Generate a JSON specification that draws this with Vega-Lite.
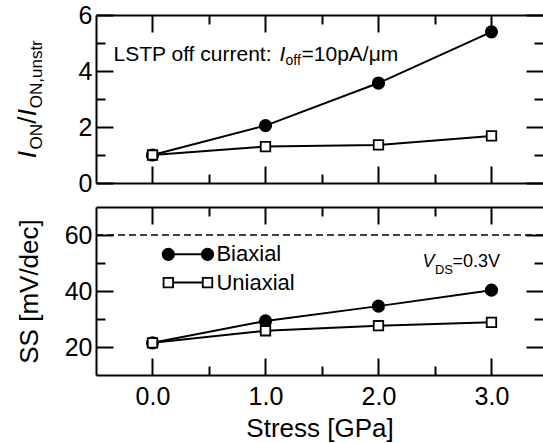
{
  "$schema": "https://vega.github.io/schema/vega-lite/v6.json",
  "padding": {"left": 15, "top": 3, "right": 0, "bottom": 3},
  "config": {
    "view": {"stroke": null},
    "font": "Liberation Sans",
    "axis": {"grid": false, "minExtent": 0, "domainColor": "black", "domainWidth": 2, "tickColor": "black", "tickWidth": 2, "labelColor": "black", "labelFontSize": 25, "labelFont": "Liberation Sans", "titleColor": "black", "titleFontSize": 26, "titleFontWeight": "normal", "titleFont": "Liberation Sans"}
  },
  "datasets": {
    "ion": [
      {"stress": 0, "type": "Biaxial", "value": 1.0},
      {"stress": 1, "type": "Biaxial", "value": 2.05},
      {"stress": 2, "type": "Biaxial", "value": 3.57},
      {"stress": 3, "type": "Biaxial", "value": 5.4},
      {"stress": 0, "type": "Uniaxial", "value": 1.0},
      {"stress": 1, "type": "Uniaxial", "value": 1.3},
      {"stress": 2, "type": "Uniaxial", "value": 1.36},
      {"stress": 3, "type": "Uniaxial", "value": 1.68}
    ],
    "ss": [
      {"stress": 0, "type": "Biaxial", "value": 21.5},
      {"stress": 1, "type": "Biaxial", "value": 29.3},
      {"stress": 2, "type": "Biaxial", "value": 34.6},
      {"stress": 3, "type": "Biaxial", "value": 40.3},
      {"stress": 0, "type": "Uniaxial", "value": 21.5},
      {"stress": 1, "type": "Uniaxial", "value": 25.8},
      {"stress": 2, "type": "Uniaxial", "value": 27.6},
      {"stress": 3, "type": "Uniaxial", "value": 28.8}
    ]
  },
  "bounds": "flush",
  "spacing": 24,
  "vconcat": [
    {
      "width": 447,
      "height": 168,
      "resolve": {"axis": {"x": "independent", "y": "independent"}},
      "layer": [
        {
          "data": {"name": "ion"},
          "mark": {"type": "line", "color": "black", "strokeWidth": 2},
          "encoding": {
            "x": {"field": "stress", "type": "quantitative", "scale": {"domain": [-0.5, 3.456], "nice": false, "zero": false},
              "axis": {"orient": "bottom", "values": [0, 0.5, 1, 1.5, 2, 2.5, 3], "labels": false, "title": null,
                "tickSize": {"condition": {"test": "datum.value % 1 === 0", "value": -17}, "value": -9}}},
            "y": {"field": "value", "type": "quantitative", "scale": {"domain": [0, 6], "nice": false, "zero": false},
              "axis": {"orient": "left", "values": [0, 1, 2, 3, 4, 5, 6], "title": null, "labelPadding": 21,
                "labelExpr": "datum.value % 2 === 0 ? datum.value : ''",
                "tickSize": {"condition": {"test": "datum.value % 2 === 0", "value": -17}, "value": -9}}},
            "detail": {"field": "type"}
          }
        },
        {
          "data": {"name": "ion"},
          "mark": {"type": "point", "stroke": "black", "strokeWidth": 1.8, "opacity": 1},
          "encoding": {
            "x": {"field": "stress", "type": "quantitative",
              "axis": {"orient": "top", "values": [0, 0.5, 1, 1.5, 2, 2.5, 3], "labels": false, "title": null,
                "tickSize": {"condition": {"test": "datum.value % 1 === 0", "value": -17}, "value": -9}}},
            "y": {"field": "value", "type": "quantitative",
              "axis": {"orient": "right", "values": [0, 1, 2, 3, 4, 5, 6], "labels": false, "title": null, "domain": false,
                "tickSize": {"condition": {"test": "datum.value % 2 === 0", "value": -17}, "value": -9}}},
            "shape": {"field": "type", "scale": {"domain": ["Biaxial", "Uniaxial"], "range": ["circle", "square"]}, "legend": null},
            "fill": {"field": "type", "scale": {"domain": ["Biaxial", "Uniaxial"], "range": ["black", "white"]}, "legend": null},
            "size": {"field": "type", "scale": {"domain": ["Biaxial", "Uniaxial"], "range": [130, 90]}, "legend": null}
          }
        },
        {
          "data": {"values": [{}]},
          "mark": {"type": "text", "align": "left", "baseline": "alphabetic", "fontSize": 21, "color": "black"},
          "encoding": {"x": {"datum": -0.345, "type": "quantitative", "axis": null}, "y": {"datum": 4.37, "type": "quantitative", "axis": null}, "text": {"value": "LSTP off current: "}}
        },
        {
          "data": {"values": [{}]},
          "mark": {"type": "text", "align": "left", "baseline": "alphabetic", "fontSize": 21, "fontStyle": "italic", "color": "black"},
          "encoding": {"x": {"datum": 1.124, "type": "quantitative", "axis": null}, "y": {"datum": 4.37, "type": "quantitative", "axis": null}, "text": {"value": "I"}}
        },
        {
          "data": {"values": [{}]},
          "mark": {"type": "text", "align": "left", "baseline": "alphabetic", "fontSize": 14, "color": "black"},
          "encoding": {"x": {"datum": 1.177, "type": "quantitative", "axis": null}, "y": {"datum": 4.2, "type": "quantitative", "axis": null}, "text": {"value": "off"}}
        },
        {
          "data": {"values": [{}]},
          "mark": {"type": "text", "align": "left", "baseline": "alphabetic", "fontSize": 21, "color": "black"},
          "encoding": {"x": {"datum": 1.319, "type": "quantitative", "axis": null}, "y": {"datum": 4.37, "type": "quantitative", "axis": null}, "text": {"value": "=10pA/μm"}}
        },
        {
          "data": {"values": [{}]},
          "mark": {"type": "text", "align": "left", "baseline": "alphabetic", "angle": 270, "fontSize": 26, "fontStyle": "italic", "color": "black"},
          "encoding": {"x": {"datum": -1.027, "type": "quantitative", "axis": null}, "y": {"datum": 0.88, "type": "quantitative", "axis": null}, "text": {"value": "I"}}
        },
        {
          "data": {"values": [{}]},
          "mark": {"type": "text", "align": "left", "baseline": "alphabetic", "angle": 270, "fontSize": 17, "color": "black"},
          "encoding": {"x": {"datum": -0.982, "type": "quantitative", "axis": null}, "y": {"datum": 1.2, "type": "quantitative", "axis": null}, "text": {"value": "ON"}}
        },
        {
          "data": {"values": [{}]},
          "mark": {"type": "text", "align": "left", "baseline": "alphabetic", "angle": 270, "fontSize": 26, "color": "black"},
          "encoding": {"x": {"datum": -1.027, "type": "quantitative", "axis": null}, "y": {"datum": 2.12, "type": "quantitative", "axis": null}, "text": {"value": "/"}}
        },
        {
          "data": {"values": [{}]},
          "mark": {"type": "text", "align": "left", "baseline": "alphabetic", "angle": 270, "fontSize": 26, "fontStyle": "italic", "color": "black"},
          "encoding": {"x": {"datum": -1.027, "type": "quantitative", "axis": null}, "y": {"datum": 2.38, "type": "quantitative", "axis": null}, "text": {"value": "I"}}
        },
        {
          "data": {"values": [{}]},
          "mark": {"type": "text", "align": "left", "baseline": "alphabetic", "angle": 270, "fontSize": 17, "color": "black"},
          "encoding": {"x": {"datum": -0.982, "type": "quantitative", "axis": null}, "y": {"datum": 2.67, "type": "quantitative", "axis": null}, "text": {"value": "ON,unstr"}}
        }
      ]
    },
    {
      "width": 447,
      "height": 168,
      "resolve": {"axis": {"x": "independent", "y": "independent"}},
      "layer": [
        {
          "data": {"name": "ss"},
          "mark": {"type": "line", "color": "black", "strokeWidth": 2},
          "encoding": {
            "x": {"field": "stress", "type": "quantitative", "scale": {"domain": [-0.5, 3.456], "nice": false, "zero": false},
              "axis": {"orient": "bottom", "values": [0, 0.5, 1, 1.5, 2, 2.5, 3], "title": "Stress [GPa]", "labelPadding": 26, "titlePadding": 6,
                "labelExpr": "datum.value % 1 === 0 ? format(datum.value, '.1f') : ''",
                "tickSize": {"condition": {"test": "datum.value % 1 === 0", "value": -17}, "value": -9}}},
            "y": {"field": "value", "type": "quantitative", "scale": {"domain": [10, 70], "nice": false, "zero": false},
              "axis": {"orient": "left", "values": [20, 30, 40, 50, 60], "title": "SS [mV/dec]", "labelPadding": 21, "titlePadding": 22,
                "labelExpr": "datum.value % 20 === 0 ? datum.value : ''",
                "tickSize": {"condition": {"test": "datum.value % 20 === 0", "value": -17}, "value": -9}}},
            "detail": {"field": "type"}
          }
        },
        {
          "data": {"name": "ss"},
          "mark": {"type": "point", "stroke": "black", "strokeWidth": 1.8, "opacity": 1},
          "encoding": {
            "x": {"field": "stress", "type": "quantitative",
              "axis": {"orient": "top", "values": [0, 0.5, 1, 1.5, 2, 2.5, 3], "labels": false, "title": null,
                "tickSize": {"condition": {"test": "datum.value % 1 === 0", "value": -17}, "value": -9}}},
            "y": {"field": "value", "type": "quantitative",
              "axis": {"orient": "right", "values": [20, 30, 40, 50, 60], "labels": false, "title": null, "domain": false,
                "tickSize": {"condition": {"test": "datum.value % 20 === 0", "value": -17}, "value": -9}}},
            "shape": {"field": "type", "scale": {"domain": ["Biaxial", "Uniaxial"], "range": ["circle", "square"]}, "legend": null},
            "fill": {"field": "type", "scale": {"domain": ["Biaxial", "Uniaxial"], "range": ["black", "white"]}, "legend": null},
            "size": {"field": "type", "scale": {"domain": ["Biaxial", "Uniaxial"], "range": [130, 90]}, "legend": null}
          }
        },
        {
          "data": {"values": [{}]},
          "mark": {"type": "rule", "color": "black", "strokeWidth": 1.5, "strokeDash": [7, 4]},
          "encoding": {"y": {"datum": 60, "type": "quantitative", "axis": null}}
        },
        {
          "data": {"values": [{}]},
          "mark": {"type": "rule", "color": "black", "strokeWidth": 2},
          "encoding": {"x": {"datum": 0.14, "type": "quantitative", "axis": null}, "x2": {"datum": 0.487}, "y": {"datum": 53.1, "type": "quantitative", "axis": null}}
        },
        {
          "data": {"values": [{}]},
          "mark": {"type": "rule", "color": "black", "strokeWidth": 2},
          "encoding": {"x": {"datum": 0.14, "type": "quantitative", "axis": null}, "x2": {"datum": 0.487}, "y": {"datum": 43.0, "type": "quantitative", "axis": null}}
        },
        {
          "data": {"values": [{}]},
          "mark": {"type": "point", "shape": "circle", "filled": true, "color": "black", "stroke": "black", "strokeWidth": 1.8, "size": 130, "opacity": 1},
          "encoding": {"x": {"datum": 0.14, "type": "quantitative", "axis": null}, "y": {"datum": 53.1, "type": "quantitative", "axis": null}}
        },
        {
          "data": {"values": [{}]},
          "mark": {"type": "point", "shape": "circle", "filled": true, "color": "black", "stroke": "black", "strokeWidth": 1.8, "size": 130, "opacity": 1},
          "encoding": {"x": {"datum": 0.487, "type": "quantitative", "axis": null}, "y": {"datum": 53.1, "type": "quantitative", "axis": null}}
        },
        {
          "data": {"values": [{}]},
          "mark": {"type": "point", "shape": "square", "fill": "white", "stroke": "black", "strokeWidth": 1.8, "size": 90, "opacity": 1},
          "encoding": {"x": {"datum": 0.14, "type": "quantitative", "axis": null}, "y": {"datum": 43.0, "type": "quantitative", "axis": null}}
        },
        {
          "data": {"values": [{}]},
          "mark": {"type": "point", "shape": "square", "fill": "white", "stroke": "black", "strokeWidth": 1.8, "size": 90, "opacity": 1},
          "encoding": {"x": {"datum": 0.487, "type": "quantitative", "axis": null}, "y": {"datum": 43.0, "type": "quantitative", "axis": null}}
        },
        {
          "data": {"values": [{}]},
          "mark": {"type": "text", "align": "left", "baseline": "middle", "fontSize": 22, "color": "black"},
          "encoding": {"x": {"datum": 0.566, "type": "quantitative", "axis": null}, "y": {"datum": 53.1, "type": "quantitative", "axis": null}, "text": {"value": "Biaxial"}}
        },
        {
          "data": {"values": [{}]},
          "mark": {"type": "text", "align": "left", "baseline": "middle", "fontSize": 22, "color": "black"},
          "encoding": {"x": {"datum": 0.566, "type": "quantitative", "axis": null}, "y": {"datum": 43.0, "type": "quantitative", "axis": null}, "text": {"value": "Uniaxial"}}
        },
        {
          "data": {"values": [{}]},
          "mark": {"type": "text", "align": "left", "baseline": "alphabetic", "fontSize": 18, "fontStyle": "italic", "color": "black"},
          "encoding": {"x": {"datum": 2.39, "type": "quantitative", "axis": null}, "y": {"datum": 48.6, "type": "quantitative", "axis": null}, "text": {"value": "V"}}
        },
        {
          "data": {"values": [{}]},
          "mark": {"type": "text", "align": "left", "baseline": "alphabetic", "fontSize": 13, "color": "black"},
          "encoding": {"x": {"datum": 2.5, "type": "quantitative", "axis": null}, "y": {"datum": 46.0, "type": "quantitative", "axis": null}, "text": {"value": "DS"}}
        },
        {
          "data": {"values": [{}]},
          "mark": {"type": "text", "align": "left", "baseline": "alphabetic", "fontSize": 18, "color": "black"},
          "encoding": {"x": {"datum": 2.655, "type": "quantitative", "axis": null}, "y": {"datum": 48.6, "type": "quantitative", "axis": null}, "text": {"value": "=0.3V"}}
        }
      ]
    }
  ]
}
